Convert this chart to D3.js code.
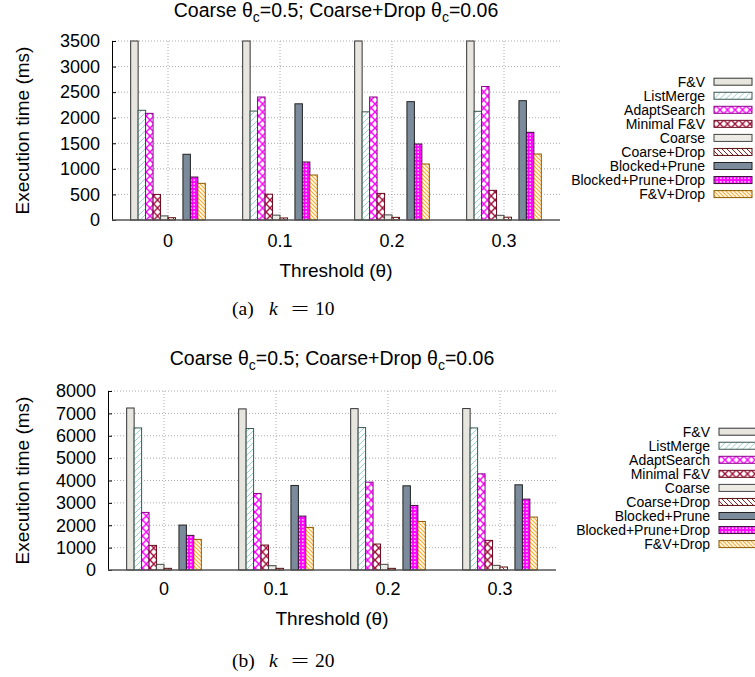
<!DOCTYPE html>
<meta charset="utf-8">
<title>Execution time vs threshold</title>
<script src="https://d3js.org/d3.v7.min.js"></script>
<style>
  body { margin: 0; background: #fff; }
  text { font-family: "Liberation Sans", Arial, sans-serif; fill: #000; }
</style>
<body>
<script>

// Values
const thresholds = ["0", "0.1", "0.2", "0.3"];
const seriesNames = ["F&V", "ListMerge", "AdaptSearch", "Minimal F&V", "Coarse",
  "Coarse+Drop", "Blocked+Prune", "Blocked+Prune+Drop", "F&V+Drop"];

// k = 10 (F&V runs off the top of the axis)
const k10_fv      = [3500, 3500, 3500, 3500];
const k10_list    = [2145, 2130, 2115, 2125];
const k10_adapt   = [2085, 2405, 2405, 2610];
const k10_minfv   = [500, 505, 520, 580];
const k10_coarse  = [80, 95, 100, 92];
const k10_cdrop   = [45, 40, 52, 55];
const k10_bprune  = [1285, 2272, 2314, 2333];
const k10_bpdrop  = [840, 1134, 1486, 1715];
const k10_fvdrop  = [717, 880, 1095, 1290];

// k = 20
const k20_fv      = [7240, 7200, 7212, 7215];
const k20_list    = [6350, 6322, 6365, 6350];
const k20_adapt   = [2574, 3421, 3926, 4298];
const k20_minfv   = [1100, 1115, 1160, 1324];
const k20_coarse  = [253, 193, 253, 208];
const k20_cdrop   = [74, 74, 74, 134];
const k20_bprune  = [2008, 3778, 3763, 3808];
const k20_bpdrop  = [1547, 2409, 2885, 3168];
const k20_fvdrop  = [1368, 1904, 2171, 2365];

const k10Series = [k10_fv, k10_list, k10_adapt, k10_minfv, k10_coarse, k10_cdrop, k10_bprune, k10_bpdrop, k10_fvdrop];
const k20Series = [k20_fv, k20_list, k20_adapt, k20_minfv, k20_coarse, k20_cdrop, k20_bprune, k20_bpdrop, k20_fvdrop];

// bar slots inside a group, there's an empty slot before Blocked+Prune
const slots = ["s0", "s1", "s2", "s3", "s4", "s5", "gap", "s6", "s7", "s8"];

const outlines = ["#333", "#3a5650", "#8b008b", "#6b0a1e", "#444", "#5c1010", "#222", "#3a103a", "#8b5a00"];

const svg = d3.select("body").append("svg")
  .attr("width", 755)
  .attr("height", 677);

// fill patterns, roughly like gnuplot's
const defs = svg.append("defs");

function pattern(id, w, h, bg) {
  const p = defs.append("pattern")
    .attr("id", id)
    .attr("patternUnits", "userSpaceOnUse")
    .attr("width", w)
    .attr("height", h);
  p.append("rect").attr("width", w).attr("height", h).attr("fill", bg);
  return p;
}

pattern("p1", 6, 6, "#fff").append("path")
  .attr("d", "M0,6L6,0M-1,1L1,-1M5,7L7,5")
  .attr("stroke", "#8fcfbd").attr("stroke-width", 0.9);

pattern("p2", 7.5, 8, "#fff").append("path")
  .attr("d", "M0,0L7.5,8M7.5,0L0,8")
  .attr("stroke", "#ff00ff").attr("stroke-width", 1.4);

pattern("p3", 7.5, 8, "#fff").append("path")
  .attr("d", "M0,0L7.5,8M7.5,0L0,8")
  .attr("stroke", "#a0103a").attr("stroke-width", 1.4);

pattern("p4", 3, 3, "#f4f4ee").append("path")
  .attr("d", "M0,0L3,3M3,0L0,3")
  .attr("stroke", "#dcdcd2").attr("stroke-width", 0.5);

pattern("p5", 5, 5, "#fff").append("path")
  .attr("d", "M0,0L5,5M-1,4L1,6M4,-1L6,1")
  .attr("stroke", "#8b1a1a").attr("stroke-width", 1);

const p7 = pattern("p7", 3.5, 3.5, "#ff00ff");
p7.append("rect").attr("x", 1).attr("y", 1).attr("width", 1.5).attr("height", 1.5).attr("fill", "#fff");

pattern("p8", 4, 4, "#fffdf2").append("path")
  .attr("d", "M0,0L4,4M-1,3L1,5M3,-1L5,1")
  .attr("stroke", "#ffa830").attr("stroke-width", 1.1);

const fills = ["#e6e6de", "url(#p1)", "url(#p2)", "url(#p3)", "url(#p4)", "url(#p5)", "#7b8b9b", "url(#p7)", "url(#p8)"];

function drawChart(cfg) {
  const x0 = d3.scaleBand().domain(thresholds).range([cfg.left, cfg.right]);
  const x1 = d3.scaleBand().domain(slots).range([0, x0.bandwidth()])
    .paddingInner(0).paddingOuter(2.5);
  const y = d3.scaleLinear().domain([0, cfg.yMax]).range([cfg.bottom, cfg.top]);
  const yTicks = d3.range(0, cfg.yMax + 1, cfg.yStep);

  const g = svg.append("g");

  // grid
  g.selectAll("line.hgrid")
    .data(yTicks.slice(1))
    .enter().append("line")
    .attr("x1", cfg.left).attr("x2", cfg.right)
    .attr("y1", d => y(d)).attr("y2", d => y(d))
    .attr("stroke", "#aaa").attr("stroke-dasharray", "1,2");

  g.selectAll("line.vgrid")
    .data(thresholds)
    .enter().append("line")
    .attr("x1", d => x0(d) + x0.bandwidth() / 2).attr("x2", d => x0(d) + x0.bandwidth() / 2)
    .attr("y1", cfg.top).attr("y2", cfg.bottom)
    .attr("stroke", "#aaa").attr("stroke-dasharray", "1,2");

  // bars
  const rows = [];
  cfg.series.forEach((vals, si) => {
    vals.forEach((v, ti) => rows.push({ t: thresholds[ti], s: si, v: v }));
  });

  g.selectAll("rect.bar")
    .data(rows)
    .enter().append("rect")
    .attr("x", d => x0(d.t) + x1(slots[d.s < 6 ? d.s : d.s + 1]))
    .attr("y", d => y(d.v))
    .attr("width", x1.bandwidth())
    .attr("height", d => cfg.bottom - y(d.v))
    .attr("fill", d => fills[d.s])
    .attr("stroke", d => outlines[d.s])
    .attr("stroke-width", 1);

  // axes
  const yAxis = g.append("g")
    .attr("transform", `translate(${cfg.left},0)`)
    .call(d3.axisLeft(y).tickValues(yTicks).tickSize(-4).tickPadding(12).tickFormat(d3.format("d")));
  yAxis.select(".domain").attr("stroke", "#000");
  yAxis.selectAll("text").attr("font-size", 18).attr("font-family", "Liberation Sans, Arial, sans-serif");

  g.append("line")
    .attr("x1", cfg.left).attr("x2", cfg.right)
    .attr("y1", cfg.bottom).attr("y2", cfg.bottom)
    .attr("stroke", "#555").attr("stroke-width", 1.5);

  g.selectAll("text.xtick")
    .data(thresholds)
    .enter().append("text")
    .attr("x", d => x0(d) + x0.bandwidth() / 2)
    .attr("y", cfg.xTickY)
    .attr("text-anchor", "middle")
    .attr("font-size", 18)
    .text(d => d);

  // axis labels
  g.append("text")
    .attr("x", (cfg.left + cfg.right) / 2)
    .attr("y", cfg.xLabelY)
    .attr("text-anchor", "middle")
    .attr("font-size", 19)
    .text("Threshold (θ)");

  g.append("text")
    .attr("transform", `translate(22,${(cfg.top + cfg.bottom) / 2}) rotate(-90)`)
    .attr("dy", "0.35em")
    .attr("text-anchor", "middle")
    .attr("font-size", 19)
    .text("Execution time (ms)");

  // title with subscripts
  const title = g.append("text")
    .attr("x", (cfg.left + cfg.right) / 2)
    .attr("y", cfg.titleY)
    .attr("text-anchor", "middle")
    .attr("font-size", 19.5);
  title.append("tspan").text("Coarse θ");
  title.append("tspan").attr("font-size", 14).attr("dy", 5).text("c");
  title.append("tspan").attr("dy", -5).text("=0.5; Coarse+Drop θ");
  title.append("tspan").attr("font-size", 14).attr("dy", 5).text("c");
  title.append("tspan").attr("dy", -5).text("=0.06");

  // legend
  const leg = g.selectAll("g.leg")
    .data(seriesNames)
    .enter().append("g")
    .attr("transform", (d, i) => `translate(${cfg.legendX},${cfg.legendY + i * 14.05})`);
  leg.append("text")
    .attr("text-anchor", "end")
    .attr("y", 5)
    .attr("font-size", 14)
    .text(d => d);
  leg.append("rect")
    .attr("x", 9).attr("y", -3.5)
    .attr("width", 38).attr("height", 7)
    .attr("fill", (d, i) => fills[i])
    .attr("stroke", (d, i) => outlines[i]);

  // sub caption, LaTeX-like
  const cap = g.append("g").style("font-family", "Liberation Serif, DejaVu Serif, serif");
  cap.append("text").attr("x", 232).attr("y", cfg.captionY).attr("font-size", 19.5)
    .style("font-family", "inherit").text(cfg.captionTag);
  cap.append("text").attr("x", 269).attr("y", cfg.captionY).attr("font-size", 19.5)
    .style("font-family", "inherit").style("font-style", "italic").text("k");
  cap.append("text").attr("x", 291).attr("y", cfg.captionY).attr("font-size", 19.5)
    .attr("textLength", 18).attr("lengthAdjust", "spacingAndGlyphs")
    .style("font-family", "inherit").text("=");
  cap.append("text").attr("x", 315).attr("y", cfg.captionY).attr("font-size", 19.5)
    .style("font-family", "inherit").text(cfg.captionK);
}

drawChart({
  series: k10Series, left: 112, right: 560, top: 41, bottom: 220,
  yMax: 3500, yStep: 500, titleY: 17, xTickY: 247, xLabelY: 277,
  legendX: 705, legendY: 81.7, captionY: 315, captionTag: "(a)", captionK: "10"
});

drawChart({
  series: k20Series, left: 108, right: 556, top: 391, bottom: 570,
  yMax: 8000, yStep: 1000, titleY: 365, xTickY: 595, xLabelY: 625,
  legendX: 710, legendY: 431.7, captionY: 667, captionTag: "(b)", captionK: "20"
});

</script>
</body>
